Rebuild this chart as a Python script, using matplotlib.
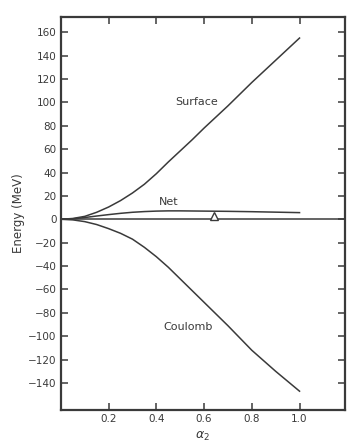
import numpy as np
import matplotlib
matplotlib.use('Agg')
from matplotlib import pyplot as plt

# deformation parameter and energy terms (MeV)
alpha = [0.0, 0.05, 0.1, 0.15, 0.2, 0.25, 0.3, 0.35, 0.4, 0.45, 0.5,
         0.55, 0.6, 0.65, 0.7, 0.75, 0.8, 0.85, 0.9, 0.95, 1.0]
surface = [0, 0.7, 2.5, 6, 10.5, 16, 22.5, 30, 39, 49, 58.5,
           68, 78, 87.5, 97, 107, 117, 126.5, 136, 145.5, 155]
coulomb = [0, -0.5, -2, -4.5, -8, -12, -17, -24, -32, -41, -51,
           -61, -71, -81, -91, -101.5, -112, -121, -130, -138.5, -147]
net = [0, 0.4, 1.5, 2.8, 4, 5.1, 6, 6.6, 7, 7.2, 7.2,
       7.1, 7, 6.9, 6.8, 6.65, 6.5, 6.3, 6.1, 5.9, 5.7]

saddle_alpha = 0.64

xticks = [0.2, 0.4, 0.6, 0.8, 1.0]
yticks = list(range(-140, 161, 20))

ink = '#3a3a3a'

fig = plt.figure(figsize=(3.48, 4.47), dpi=100)
ax = fig.add_axes([0.175, 0.083, 0.816, 0.879])

ax.plot(alpha, surface, color=ink, lw=1.1)
ax.plot(alpha, coulomb, color=ink, lw=1.1)
ax.plot(alpha, net, color=ink, lw=1.1)
ax.axhline(0, color=ink, lw=1.1)
ax.plot([saddle_alpha], [2.6], marker='^', ms=6, mfc='white', mec=ink, mew=1.0, ls='none')

ax.text(0.567, 100, 'Surface', ha='center', va='center', fontsize=8, color=ink)
ax.text(0.45, 15, 'Net', ha='center', va='center', fontsize=8, color=ink)
ax.text(0.533, -92.5, 'Coulomb', ha='center', va='center', fontsize=8, color=ink)

ax.set_xlim(0, 1.19)
ax.set_ylim(-163, 173)
ax.set_xticks(xticks)
ax.set_xticklabels(['0.2', '0.4', '0.6', '0.8', '1.0'])
ax.set_yticks(yticks)
ax.set_yticklabels([str(v).replace('-', '\u2212') for v in yticks])

ax.tick_params(direction='in', length=5, width=1.1, colors=ink, labelsize=7.5,
               top=True, right=True, pad=3)
for s in ax.spines.values():
    s.set_linewidth(1.6)
    s.set_color(ink)

ax.set_ylabel('Energy (MeV)', fontsize=8.5, color=ink, labelpad=2)
ax.set_xlabel(r'$\alpha_2$', fontsize=9, color=ink, labelpad=4)

fig.savefig('out.png', dpi=100, facecolor='white')
